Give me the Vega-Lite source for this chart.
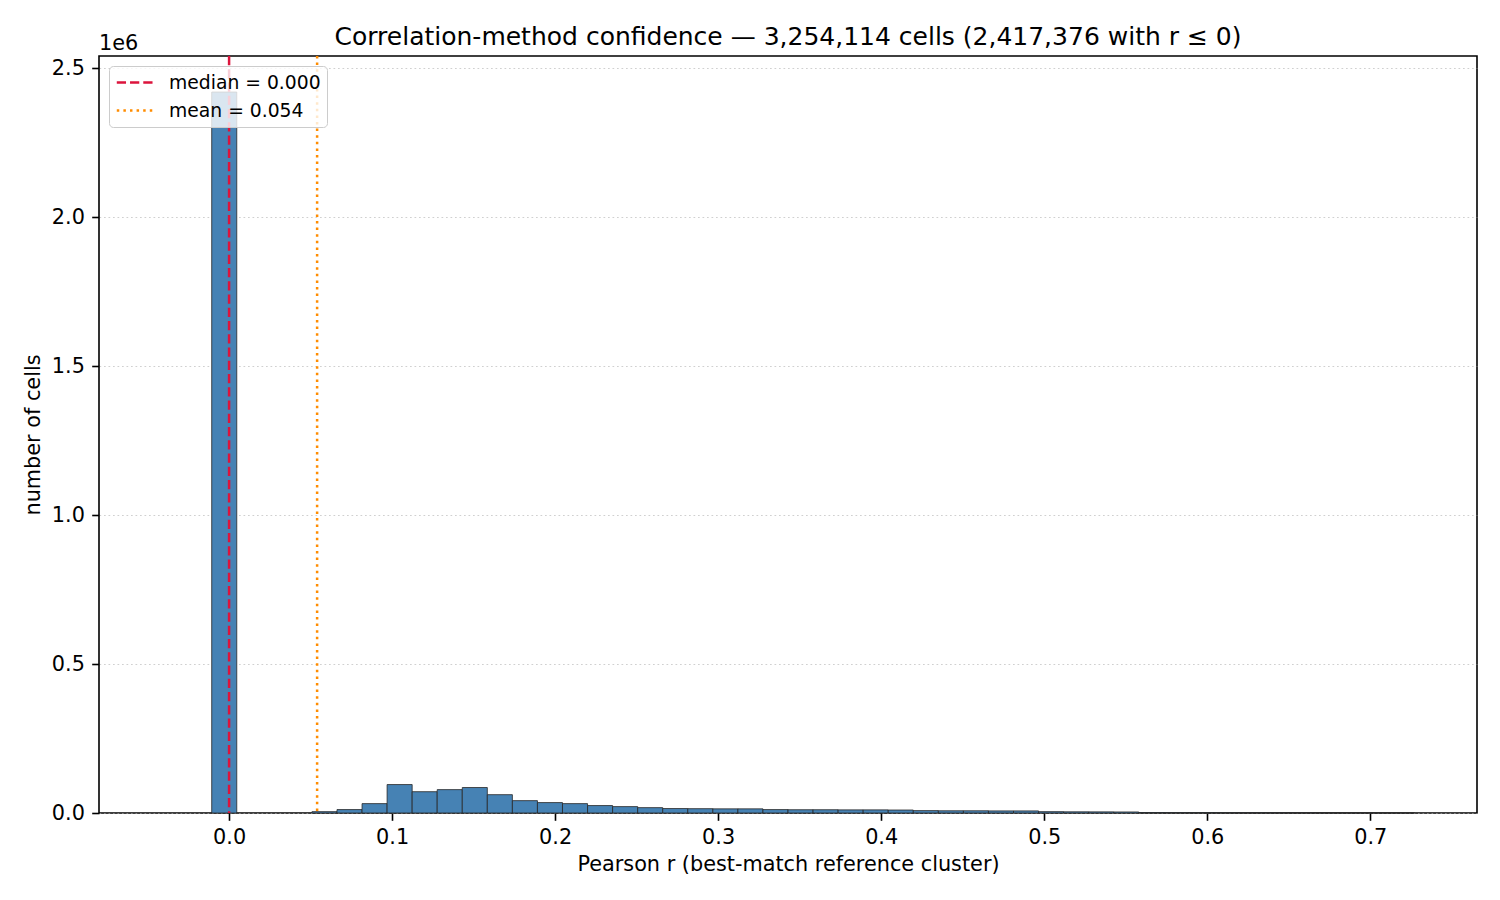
{
  "$schema": "https://vega.github.io/schema/vega-lite/v6.json",
  "width": 1378,
  "height": 757,
  "autosize": {"type": "none"},
  "padding": {"left": 99, "top": 56, "right": 23, "bottom": 87},
  "background": "white",
  "config": {
    "font": "DejaVu Sans",
    "view": {"stroke": "#000000", "strokeWidth": 1.6},
    "axis": {
      "domain": false,
      "grid": false,
      "tickColor": "#000000",
      "tickWidth": 1.6,
      "tickSize": 7.3,
      "labelPadding": 7.3,
      "labelFont": "DejaVu Sans",
      "labelFontSize": 20.8,
      "labelColor": "#000000",
      "titleFont": "DejaVu Sans",
      "titleFontSize": 20.8,
      "titleFontWeight": "normal",
      "titleColor": "#000000"
    },
    "legend": {
      "orient": "top-left",
      "offset": 10,
      "fillColor": "rgba(255,255,255,0.8)",
      "strokeColor": "#cccccc",
      "cornerRadius": 4,
      "padding": 6,
      "symbolType": "M-2.08,0H2.08",
      "symbolSize": 324,
      "symbolStrokeWidth": 2.5,
      "symbolOffset": 10,
      "labelFont": "DejaVu Sans",
      "labelFontSize": 18.75,
      "labelOffset": 23,
      "labelColor": "#000000",
      "labelLimit": 400,
      "rowPadding": 7
    }
  },
  "title": {
    "text": "Correlation-method confidence — 3,254,114 cells (2,417,376 with r ≤ 0)",
    "font": "DejaVu Sans",
    "fontSize": 25,
    "fontWeight": "normal",
    "color": "#000000",
    "anchor": "middle",
    "baseline": "bottom",
    "offset": 9,
    "dy": 51
  },
  "datasets": {
    "bins": [
      {"bin_start": -0.01066, "bin_end": 0.00471, "count": 2420000},
      {"bin_start": 0.05082, "bin_end": 0.06619, "count": 4500},
      {"bin_start": 0.06619, "bin_end": 0.08156, "count": 11500},
      {"bin_start": 0.08156, "bin_end": 0.09693, "count": 31500},
      {"bin_start": 0.09693, "bin_end": 0.11230, "count": 95500},
      {"bin_start": 0.11230, "bin_end": 0.12767, "count": 71500},
      {"bin_start": 0.12767, "bin_end": 0.14304, "count": 78500},
      {"bin_start": 0.14304, "bin_end": 0.15841, "count": 85500},
      {"bin_start": 0.15841, "bin_end": 0.17378, "count": 61500},
      {"bin_start": 0.17378, "bin_end": 0.18915, "count": 41500},
      {"bin_start": 0.18915, "bin_end": 0.20452, "count": 35000},
      {"bin_start": 0.20452, "bin_end": 0.21989, "count": 31500},
      {"bin_start": 0.21989, "bin_end": 0.23526, "count": 25000},
      {"bin_start": 0.23526, "bin_end": 0.25063, "count": 21500},
      {"bin_start": 0.25063, "bin_end": 0.26600, "count": 18000},
      {"bin_start": 0.26600, "bin_end": 0.28137, "count": 15000},
      {"bin_start": 0.28137, "bin_end": 0.29674, "count": 14500},
      {"bin_start": 0.29674, "bin_end": 0.31211, "count": 14000},
      {"bin_start": 0.31211, "bin_end": 0.32748, "count": 14000},
      {"bin_start": 0.32748, "bin_end": 0.34285, "count": 11500},
      {"bin_start": 0.34285, "bin_end": 0.35822, "count": 11000},
      {"bin_start": 0.35822, "bin_end": 0.37359, "count": 11000},
      {"bin_start": 0.37359, "bin_end": 0.38896, "count": 10500},
      {"bin_start": 0.38896, "bin_end": 0.40433, "count": 10500},
      {"bin_start": 0.40433, "bin_end": 0.41970, "count": 10000},
      {"bin_start": 0.41970, "bin_end": 0.43507, "count": 8000},
      {"bin_start": 0.43507, "bin_end": 0.45044, "count": 7500},
      {"bin_start": 0.45044, "bin_end": 0.46581, "count": 7500},
      {"bin_start": 0.46581, "bin_end": 0.48118, "count": 7000},
      {"bin_start": 0.48118, "bin_end": 0.49655, "count": 7000},
      {"bin_start": 0.49655, "bin_end": 0.51192, "count": 4500},
      {"bin_start": 0.51192, "bin_end": 0.52729, "count": 4000},
      {"bin_start": 0.52729, "bin_end": 0.54266, "count": 3800},
      {"bin_start": 0.54266, "bin_end": 0.55803, "count": 3500},
      {"bin_start": 0.55803, "bin_end": 0.57340, "count": 1200},
      {"bin_start": 0.57340, "bin_end": 0.58877, "count": 800},
      {"bin_start": 0.58877, "bin_end": 0.60414, "count": 500},
      {"bin_start": 0.60414, "bin_end": 0.61951, "count": 350},
      {"bin_start": 0.61951, "bin_end": 0.63488, "count": 250},
      {"bin_start": 0.63488, "bin_end": 0.65025, "count": 180},
      {"bin_start": 0.65025, "bin_end": 0.66562, "count": 120},
      {"bin_start": 0.66562, "bin_end": 0.68099, "count": 80},
      {"bin_start": 0.68099, "bin_end": 0.69636, "count": 50},
      {"bin_start": 0.69636, "bin_end": 0.71173, "count": 30},
      {"bin_start": 0.71173, "bin_end": 0.72710, "count": 15}
    ],
    "lines": [
      {"stat": "median = 0.000", "r": 0.0},
      {"stat": "mean = 0.054", "r": 0.054}
    ],
    "offset": [
      {"label": "1e6"}
    ]
  },
  "layer": [
    {
      "data": {"name": "bins"},
      "mark": {"type": "rect", "fill": "#4682b4", "stroke": "#262626", "strokeWidth": 0.8},
      "encoding": {
        "x": {
          "field": "bin_start",
          "type": "quantitative",
          "scale": {"domain": [-0.0798, 0.7655], "nice": false, "zero": false},
          "axis": {"values": [0, 0.1, 0.2, 0.3, 0.4, 0.5, 0.6, 0.7], "format": ".1f", "labelFlush": false, "labelOverlap": false, "titlePadding": 7},
          "title": "Pearson r (best-match reference cluster)"
        },
        "x2": {"field": "bin_end"},
        "y": {
          "field": "count",
          "type": "quantitative",
          "scale": {"domain": [0, 2541000], "nice": false},
          "axis": {
            "values": [0, 500000, 1000000, 1500000, 2000000, 2500000],
            "labelExpr": "format(datum.value / 1000000, '.1f')",
            "grid": true,
            "gridColor": "#b0b0b0",
            "gridOpacity": 0.6,
            "gridWidth": 1.2,
            "gridDash": [1.7, 2.8],
            "titlePadding": 8
          },
          "title": "number of cells"
        },
        "y2": {"datum": 0}
      }
    },
    {
      "data": {"name": "lines"},
      "mark": {"type": "rule", "strokeWidth": 2.5},
      "encoding": {
        "x": {"field": "r", "type": "quantitative"},
        "color": {
          "field": "stat",
          "type": "nominal",
          "scale": {"domain": ["median = 0.000", "mean = 0.054"], "range": ["#dc143c", "#ff8c00"]},
          "title": null
        },
        "strokeDash": {
          "field": "stat",
          "type": "nominal",
          "scale": {"domain": ["median = 0.000", "mean = 0.054"], "range": [[9.25, 4], [2.5, 4.1]]},
          "title": null
        }
      }
    },
    {
      "data": {"name": "offset"},
      "mark": {"type": "text", "align": "left", "baseline": "alphabetic", "dy": -6, "fontSize": 20.8, "color": "#000000", "font": "DejaVu Sans"},
      "encoding": {
        "x": {"datum": -0.0798},
        "y": {"datum": 2541000},
        "text": {"field": "label"}
      }
    }
  ]
}
